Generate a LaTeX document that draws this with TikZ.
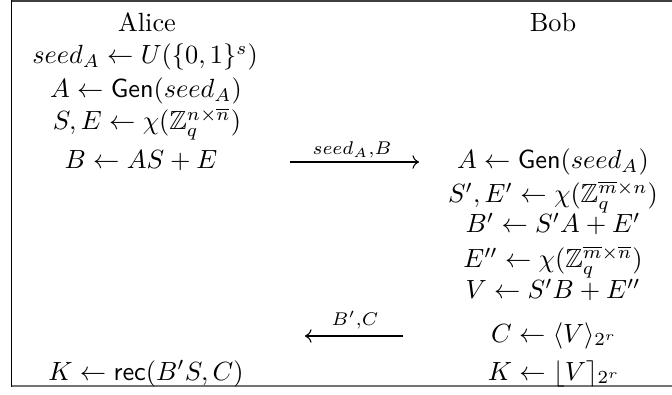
\documentclass[tikz,border=0pt]{standalone}
\usepackage{amsmath,amssymb}
\usetikzlibrary{arrows.meta}
\begin{document}
\begin{tikzpicture}[x=0.38pt,y=-0.38pt,
  txt/.style={inner sep=0pt, anchor=base},
  msglbl/.style={inner sep=0pt, anchor=base},
  msg/.style={-{Computer Modern Rightarrow}, line width=0.4pt}]
\useasboundingbox (0,0) rectangle (672,395);
% frame
\draw[line width=0.75pt, black!75] (11.5,1) -- (672,1);
\draw[line width=0.6pt, black] (11.5,0.5) -- (11.5,386.5);
\draw[line width=0.75pt, black!55] (11.5,386) -- (672,386);
% Alice column
\node[txt] (alice) at (147,32) {Alice};
\node[txt] (a1) at (145,64) {$seed_A \leftarrow U(\{0,1\}^s)$};
\node[txt] (a2) at (146,98) {$A \leftarrow \mathsf{Gen}(seed_A)$};
\node[txt] (a3) at (147,130) {$S,E \leftarrow \chi(\mathbb{Z}_q^{n\times\overline{n}})$};
\node[txt] (a4) at (141,169) {$B \leftarrow AS+E$};
\node[txt] (a5) at (146,380) {$K \leftarrow \mathsf{rec}(B'S,C)$};
% Bob column
\node[txt] (bob) at (553,32) {Bob};
\node[txt] (b1) at (553,169) {$A \leftarrow \mathsf{Gen}(seed_A)$};
\node[txt] (b2) at (553,203) {$S',E' \leftarrow \chi(\mathbb{Z}_q^{\overline{m}\times n})$};
\node[txt] (b3) at (553,233) {$B' \leftarrow S'A+E'$};
\node[txt] (b4) at (553,268) {$E'' \leftarrow \chi(\mathbb{Z}_q^{\overline{m}\times\overline{n}})$};
\node[txt] (b5) at (553,299) {$V \leftarrow S'B+E''$};
\node[txt] (b6) at (554,342) {$C \leftarrow \langle V\rangle_{2^r}$};
\node[txt] (b7) at (554,380) {$K \leftarrow \lfloor V\rceil_{2^r}$};
% messages
\coordinate (m1s) at (290,162);
\coordinate (m1e) at (419,162);
\coordinate (m2s) at (403,336);
\coordinate (m2e) at (305,336);
\draw[msg] (m1s) -- (m1e);
\node[msglbl] (l1) at (352,155) {$\scriptstyle seed_A,B$};
\draw[msg] (m2s) -- (m2e);
\node[msglbl] (l2) at (355,326) {$\scriptstyle B',C$};
\end{tikzpicture}
\end{document}
